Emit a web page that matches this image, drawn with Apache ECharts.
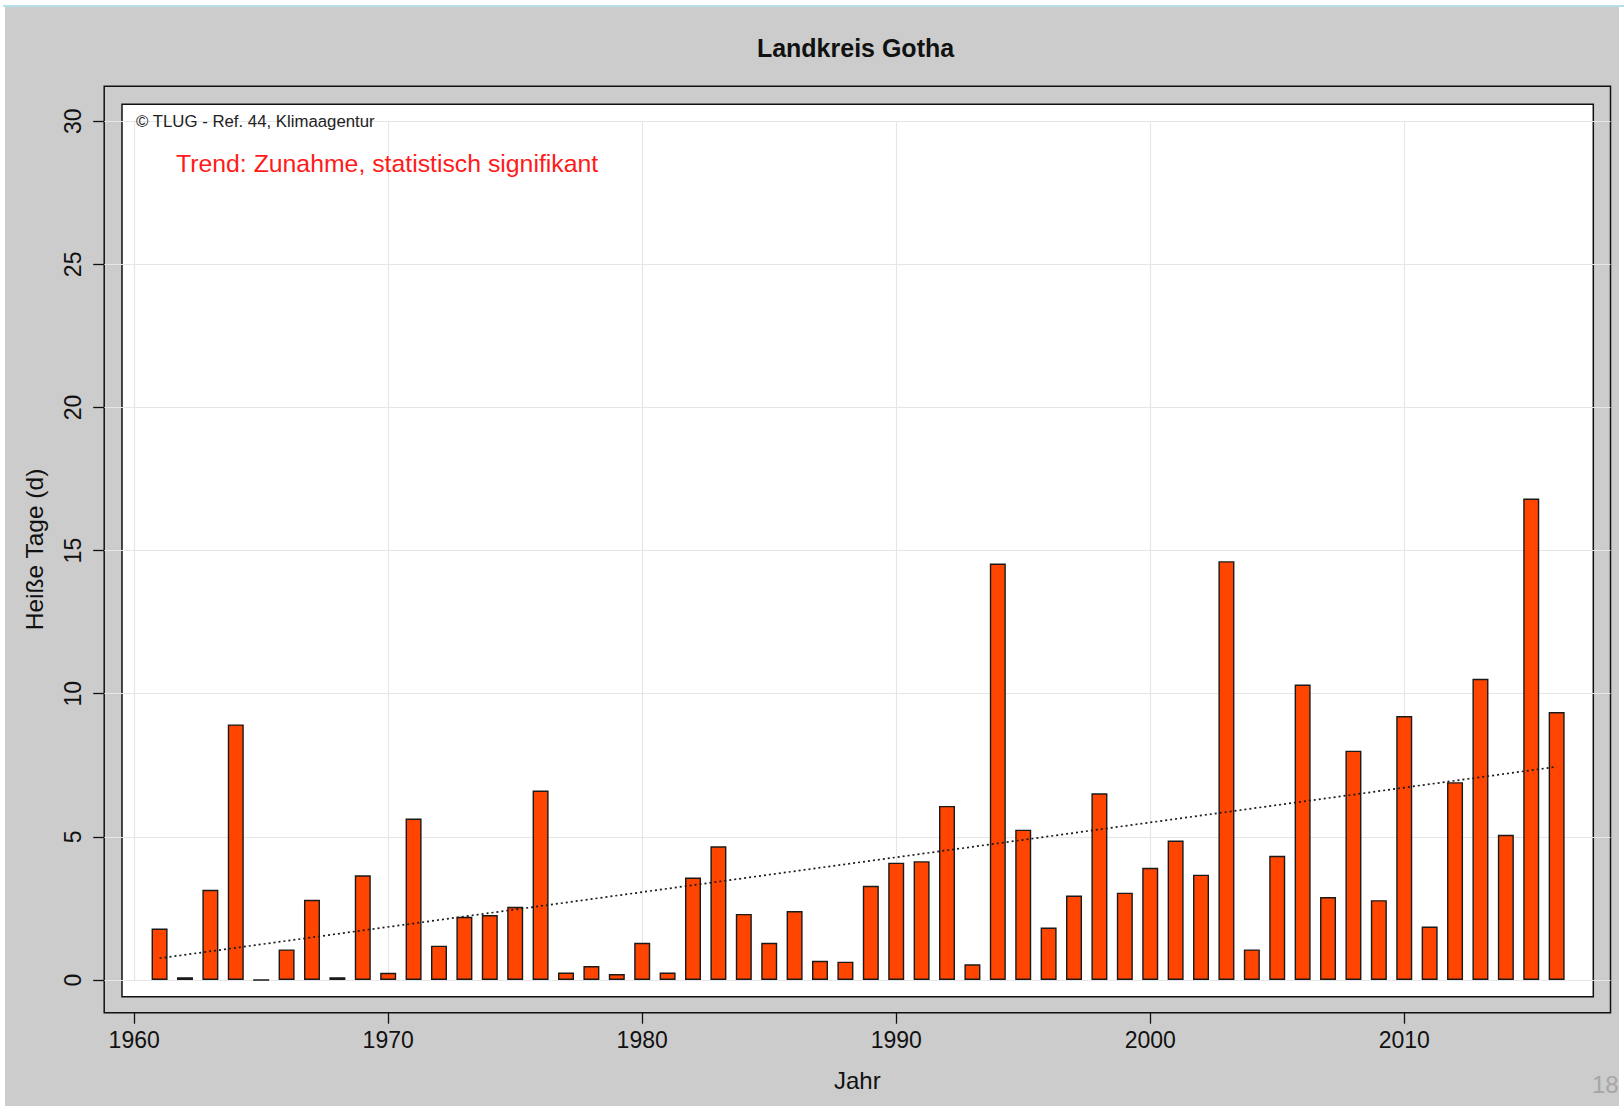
<!DOCTYPE html>
<html>
<head>
<meta charset="utf-8">
<script src="https://cdn.jsdelivr.net/npm/echarts@6/dist/echarts.min.js"></script>
<style>
  html, body { margin: 0; padding: 0; background: #ffffff; width: 1624px; height: 1106px; overflow: hidden; }
  #bg { position: absolute; left: 5px; top: 7px; width: 1614px; height: 1099px; background: #cccccc; }
  #topline { position: absolute; left: 3px; top: 5px; width: 1621px; height: 2px; background: #b5dfe9; }
  #chart { position: absolute; left: 0; top: 0; width: 1624px; height: 1106px; }
</style>
</head>
<body>
<div id="bg"></div>
<div id="topline"></div>
<div id="chart"></div>
<script>
// ---- data ----
const years = [1961, 1962, 1963, 1964, 1965, 1966, 1967, 1968, 1969, 1970,
               1971, 1972, 1973, 1974, 1975, 1976, 1977, 1978, 1979, 1980,
               1981, 1982, 1983, 1984, 1985, 1986, 1987, 1988, 1989, 1990,
               1991, 1992, 1993, 1994, 1995, 1996, 1997, 1998, 1999, 2000,
               2001, 2002, 2003, 2004, 2005, 2006, 2007, 2008, 2009, 2010,
               2011, 2012, 2013, 2014, 2015, 2016];
const hotDays = [1.8, 0.1, 3.15, 8.93, 0, 1.07, 2.8, 0.1, 3.66, 0.25,
                 5.64, 1.2, 2.21, 2.27, 2.56, 6.62, 0.26, 0.49, 0.21, 1.3,
                 0.26, 3.58, 4.67, 2.31, 1.3, 2.41, 0.67, 0.64, 3.29, 4.1,
                 4.15, 6.08, 0.55, 14.55, 5.25, 1.83, 2.95, 6.52, 3.05, 3.92,
                 4.87, 3.68, 14.63, 1.07, 4.34, 10.32, 2.9, 8.01, 2.79, 9.22,
                 1.87, 6.91, 10.52, 5.07, 16.82, 9.36];
const trendYears = [1961, 2016];
const trendValues = [0.76, 7.45];
const xTicks = [1960, 1970, 1980, 1990, 2000, 2010];
const yTicks = [0, 5, 10, 15, 20, 25, 30];

const titleText = 'Landkreis Gotha';
const xName = 'Jahr';
const yName = 'Heiße Tage (d)';
const copyText = '© TLUG - Ref. 44, Klimaagentur';
const trendText = 'Trend: Zunahme, statistisch signifikant';
const pageNo = '18';

// ---- chart ----
const FONT = '"Liberation Sans", Arial, sans-serif';
const X_MIN = 1958.82, X_MAX = 2018.12;
const Y_MIN = -1.142, Y_MAX = 31.22;

const barData = years.map((y, i) => [y, hotDays[i]]);
const trendData = trendYears.map((y, i) => [y, trendValues[i]]);

const chart = echarts.init(document.getElementById('chart'), null, { renderer: 'svg' });
chart.setOption({
  animation: false,
  backgroundColor: 'transparent',
  textStyle: { fontFamily: FONT },
  grid: [
    { left: 104.2, right: 13.5, top: 86.3, bottom: 93.3, show: true,
      backgroundColor: 'transparent', borderColor: '#111', borderWidth: 1.5 },
    { left: 104.2, right: 13.5, top: 121.2, bottom: 126, show: false }
  ],
  xAxis: [
    { type: 'value', gridIndex: 0, min: X_MIN, max: X_MAX, position: 'bottom',
      name: xName, nameLocation: 'middle', nameGap: 56,
      nameTextStyle: { fontSize: 24, color: '#111', fontFamily: FONT },
      axisLine: { show: false, onZero: false },
      axisTick: { show: true, inside: false, length: 11, customValues: xTicks,
                  lineStyle: { color: '#111', width: 1.3 } },
      axisLabel: { show: true, customValues: xTicks, fontSize: 23, color: '#111',
                   margin: 16, fontFamily: FONT, formatter: v => String(v) },
      splitLine: { show: false } },
    { type: 'value', gridIndex: 1, min: X_MIN, max: X_MAX,
      axisLine: { show: false, onZero: false },
      axisTick: { show: false, customValues: xTicks },
      axisLabel: { show: false, customValues: xTicks },
      splitLine: { show: true, lineStyle: { color: '#e6e6e6', width: 1.2 } } }
  ],
  yAxis: [
    { type: 'value', gridIndex: 0, min: Y_MIN, max: Y_MAX, position: 'left',
      name: yName, nameLocation: 'middle', nameGap: 57, nameRotate: 90,
      nameTextStyle: { fontSize: 24.5, color: '#111', fontFamily: FONT },
      axisLine: { show: false, onZero: false },
      axisTick: { show: true, inside: false, length: 11, customValues: yTicks,
                  lineStyle: { color: '#111', width: 1.3 } },
      axisLabel: { show: true, customValues: yTicks, rotate: 90, fontSize: 23,
                   color: '#111', margin: 20, fontFamily: FONT },
      splitLine: { show: true, lineStyle: { color: '#e6e6e6', width: 1.2 } } },
    { type: 'value', gridIndex: 1, min: 0, max: 30, show: false,
      axisLine: { onZero: false },
      splitLine: { show: false } }
  ],
  graphic: [
    { type: 'rect', z: -1, silent: true,
      shape: { x: 122, y: 104.3, width: 1471.3, height: 892.4 },
      style: { fill: '#ffffff', stroke: '#111', lineWidth: 1.5 } },
    { type: 'text', x: 855.5, y: 47.5, z: 10,
      style: { text: titleText, font: 'bold 25px ' + FONT, fill: '#111',
               align: 'center', verticalAlign: 'middle' } },
    { type: 'text', x: 136, y: 121.5, z: 10,
      style: { text: copyText, font: '16.8px ' + FONT, fill: '#222',
               align: 'left', verticalAlign: 'middle' } },
    { type: 'text', x: 176, y: 163.6, z: 10,
      style: { text: trendText, font: '24.8px ' + FONT, fill: '#ff1a1a',
               align: 'left', verticalAlign: 'middle' } },
    { type: 'text', x: 1592, y: 1084, z: 10,
      style: { text: pageNo, font: '24px ' + FONT, fill: '#a6a6a6',
               align: 'left', verticalAlign: 'middle' } }
  ],
  series: [
    { type: 'bar', xAxisIndex: 0, yAxisIndex: 0, data: barData, barWidth: 16,
      itemStyle: { color: '#ff4500', borderColor: '#1a1a1a', borderWidth: 1.4 },
      z: 3 },
    { type: 'line', xAxisIndex: 0, yAxisIndex: 0, data: trendData,
      symbol: 'none', lineStyle: { color: '#1a1a1a', width: 1.7, type: [2, 3] },
      z: 4 }
  ]
});
</script>
</body>
</html>
